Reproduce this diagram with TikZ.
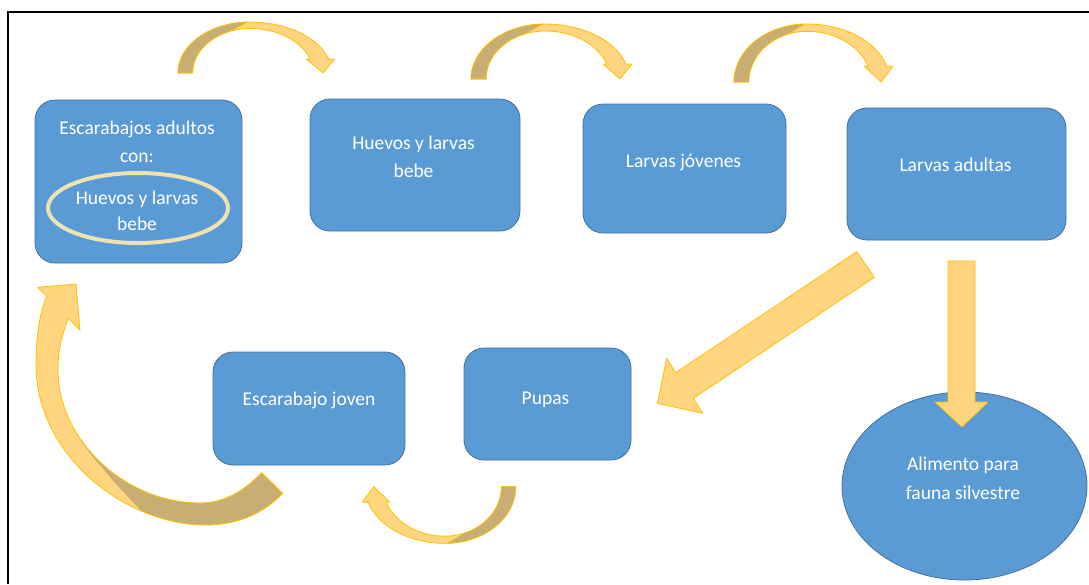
\documentclass[tikz,border=0pt]{standalone}
\usepackage{fontspec}
\setmainfont{Carlito}
\usetikzlibrary{shapes.geometric}
\definecolor{boxblue}{HTML}{5B9BD5}
\definecolor{boxedge}{HTML}{41719C}
\definecolor{arrlight}{HTML}{FFD580}
\definecolor{arrdark}{HTML}{C9AE74}
\definecolor{arredge}{HTML}{FFC000}
\definecolor{ringcol}{HTML}{EEE2B2}
\newcommand{\curvarrowshape}{%
  \path[blockarrow] plot[domain=180:270,samples=30] ({74+74*cos(\x)},{55*sin(\x)})
    -- plot[domain=270:344.2,samples=25] ({74+84*cos(\x)},{55*sin(\x)})
    -- (161,-15) -- (149,0) -- (132,-15)
    -- plot[domain=341.8:270,samples=25] ({74+65*cos(\x)},{48*sin(\x)})
    -- plot[domain=270:180,samples=30] ({74+59*cos(\x)},{48*sin(\x)}) -- cycle;
  \path[backside] plot[domain=180:268,samples=30] ({74+74*cos(\x)},{55*sin(\x)})
    -- plot[domain=250:180,samples=25] ({74+59*cos(\x)},{48*sin(\x)}) -- cycle;
}
\newcommand{\bigbandpath}{(282.7,493.3) .. controls (262,515) and (235,525) .. (206,525)
  .. controls (125,525) and (36,455) .. (36,365)
  .. controls (36,335) and (40,312) .. (46.7,296)
  -- (37.7,287.3) -- (76,284) -- (80,330) -- (68.3,318.3)
  .. controls (62,335) and (58,350) .. (58,370)
  .. controls (58,440) and (125,503) .. (200,503)
  .. controls (225,503) and (245,490) .. (261.7,472.7) -- cycle}
\begin{document}
\begin{tikzpicture}[x=1pt,y=-1pt,
  stage/.style={draw=boxedge, line width=0.8pt, fill=boxblue, rounded corners=20pt, inner sep=0pt},
  foodshape/.style={ellipse, draw=boxedge, line width=0.8pt, fill=boxblue, inner sep=0pt},
  ring/.style={ellipse, draw=ringcol, line width=4pt, inner sep=0pt},
  lbl/.style={text=white, font=\fontsize{19.5}{27}\selectfont, inner sep=0pt, anchor=base},
  blockarrow/.style={fill=arrlight, draw=arredge, line width=0.8pt, line join=round},
  backside/.style={fill=arrdark, draw=arredge, line width=0.6pt, line join=round},
]
\useasboundingbox (0,0) rectangle (1089,584);
\draw[line width=2pt] (7.5,584) -- (7.5,12) -- (1089,12);

% stages
\node[stage, minimum width=207pt, minimum height=163pt] (adultos) at (138.5,181.5) {};
\node[ring, minimum width=180pt, minimum height=70pt] (huevosring) at (138,208) {};
\node[stage, minimum width=210pt, minimum height=132pt] (huevos) at (415,165) {};
\node[stage, minimum width=203pt, minimum height=129pt] (jovenes) at (684.5,168.5) {};
\node[stage, minimum width=219pt, minimum height=132pt] (ladultas) at (956.5,174) {};
\node[stage, minimum width=192pt, minimum height=113pt] (joven) at (309,408.5) {};
\node[stage, minimum width=167pt, minimum height=112pt] (pupas) at (547.5,404) {};
\node[foodshape, minimum width=245pt, minimum height=188pt] (alimento) at (964.5,486) {};

% curved arrows on top
\begin{scope}[shift={(178,73)}, xscale=0.973, yscale=0.927]\curvarrowshape\end{scope}
\begin{scope}[shift={(471,79)}]\curvarrowshape\end{scope}
\begin{scope}[shift={(734,82)}, xscale=0.987, yscale=1.055]\curvarrowshape\end{scope}
% bottom curved arrow (Pupas -> Escarabajo joven)
\begin{scope}[shift={(515.7,486.7)}, rotate=180, xscale=0.953, yscale=1.03]\curvarrowshape\end{scope}

% big curved arrow (Escarabajo joven -> adultos)
\path[fill=arrlight] \bigbandpath;
\begin{scope}
  \clip \bigbandpath;
  \fill[arrdark] (80,440) .. controls (110,480) and (140,510) .. (175,545) -- (310,545) -- (310,440) -- cycle;
\end{scope}
\draw[arredge, line width=0.8pt, line join=round] \bigbandpath;

% straight block arrows from Larvas adultas
\path[blockarrow] (856.7,251.7) -- (675.7,372.7) -- (666.7,358.3) -- (657.3,403.3)
  -- (702.7,413.3) -- (693.3,398.3) -- (874.3,277.3) -- cycle;
\path[blockarrow] (948,261) -- (975,261) -- (975,402) -- (988,402) -- (962,427)
  -- (935,402) -- (948,402) -- cycle;

% labels
\node[lbl] (t1a) at (137,134.3) {Escarabajos adultos};
\node[lbl] (t1b) at (137,162) {con:};
\node[lbl] (t1c) at (137,204) {Huevos y larvas};
\node[lbl] (t1d) at (137,230) {bebe};
\node[lbl] (t2a) at (413.5,149.3) {Huevos y larvas};
\node[lbl] (t2b) at (413.5,177.3) {bebe};
\node[lbl] (t3) at (683.5,167.3) {Larvas jóvenes};
\node[lbl] (t4) at (955.5,171.7) {Larvas adultas};
\node[lbl] (t5) at (309,405) {Escarabajo joven};
\node[lbl] (t6) at (545.5,404) {Pupas};
\node[lbl] (t7a) at (963,470) {Alimento para};
\node[lbl] (t7b) at (963,499) {fauna silvestre};
\end{tikzpicture}
\end{document}
